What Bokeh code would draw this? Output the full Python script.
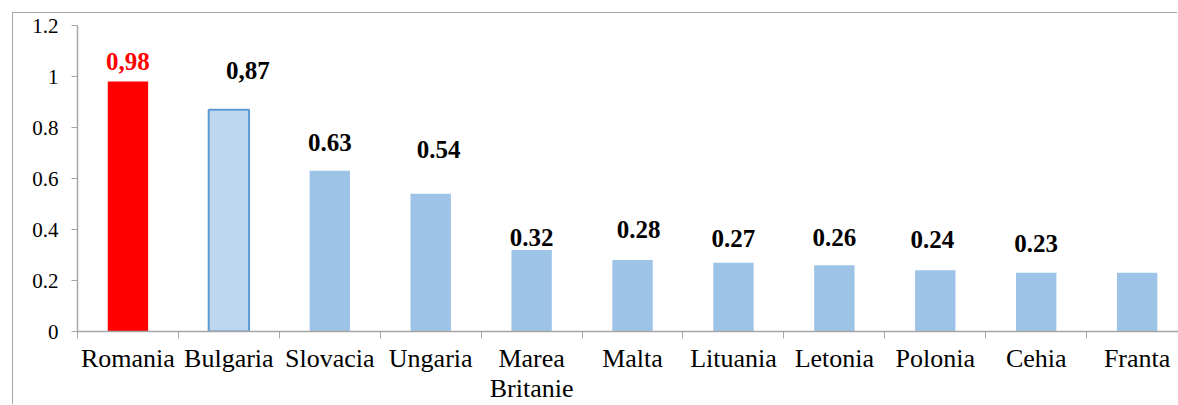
from bokeh.plotting import figure
from bokeh.models import Range1d, FixedTicker, ColumnDataSource, LabelSet
from bokeh.embed import file_html
from bokeh.resources import INLINE

countries = ["Romania", "Bulgaria", "Slovacia", "Ungaria", "Marea\nBritanie", "Malta",
             "Lituania", "Letonia", "Polonia", "Cehia", "Franta"]
values = [0.98, 0.87, 0.63, 0.54, 0.32, 0.28, 0.27, 0.26, 0.24, 0.23, 0.23]
label_texts = ["0,98", "0,87", "0.63", "0.54", "0.32", "0.28", "0.27", "0.26", "0.24", "0.23", ""]
y_ticks = [0, 0.2, 0.4, 0.6, 0.8, 1.0, 1.2]
y_tick_labels = ["0", "0.2", "0.4", "0.6", "0.8", "1", "1.2"]

# styling / layout (not data)
fill_colors = ["#FF0000", "#BDD7EE"] + ["#9DC3E6"] * 9
line_colors = ["#FF0000", "#5B9BD5"] + ["#9DC3E6"] * 9
line_widths = [0, 2] + [0] * 9
label_colors = ["#FF0000"] + ["#000000"] * 10
label_dx = [0, 19, 0, 8, 0, 6, 0, 0, -3, 0, 0]
label_dy = [12, 31, 20, 36, 4, 22, 16, 19, 22, 21, 20]

n = len(countries)
xs = [i + 0.5 for i in range(n)]

src = ColumnDataSource(dict(x=xs, top=values, fill=fill_colors, line=line_colors, lw=line_widths,
                            txt=label_texts, tcol=label_colors, dx=label_dx, dy=label_dy))

p = figure(width=1165, height=392, output_backend="svg", toolbar_location=None,
           x_range=Range1d(0, 10.91), y_range=Range1d(0, 1.2),
           min_border_left=64, min_border_right=0, min_border_top=12, min_border_bottom=74)
p.outline_line_color = None
p.grid.visible = False
p.background_fill_color = "white"
p.border_fill_color = "white"
p.styles = {"margin-left": "13px", "margin-top": "13px", "vertical-align": "top",
            "box-shadow": "-1px -1px 0px 0px #A6A6A6"}

p.vbar(x="x", top="top", bottom=0, width=0.4, source=src, fill_color="fill",
       line_color="line", line_width="lw")

labels = LabelSet(x="x", y="top", text="txt", source=src, text_color="tcol",
                  x_offset="dx", y_offset="dy", text_align="center", text_baseline="alphabetic",
                  text_font="Liberation Serif", text_font_style="bold", text_font_size="25px")
p.add_layout(labels)

axis_color = "#A6A6A6"
xa = p.xaxis[0]
xa.ticker = FixedTicker(ticks=xs, minor_ticks=list(range(n + 1)))
xa.major_label_overrides = {x: c for x, c in zip(xs, countries)}
xa.major_tick_out = 0
xa.major_tick_in = 0
xa.minor_tick_out = 7
xa.minor_tick_in = 0
xa.minor_tick_line_color = axis_color
xa.axis_line_color = axis_color
xa.axis_line_width = 1.5
xa.major_label_standoff = 5
xa.major_label_text_font = "Liberation Serif"
xa.major_label_text_font_size = "26px"
xa.major_label_text_line_height = 1.05
xa.major_label_text_color = "black"

ya = p.yaxis[0]
ya.ticker = FixedTicker(ticks=y_ticks, minor_ticks=[])
ya.major_label_overrides = {t: l for t, l in zip(y_ticks, y_tick_labels)}
ya.major_tick_out = 6
ya.major_tick_in = 0
ya.major_tick_line_color = axis_color
ya.axis_line_color = axis_color
ya.axis_line_width = 1.5
ya.major_label_standoff = 13
ya.major_label_text_font = "Liberation Serif"
ya.major_label_text_font_size = "21px"
ya.major_label_text_color = "black"

open("out.html", "w").write(file_html(p, INLINE))
